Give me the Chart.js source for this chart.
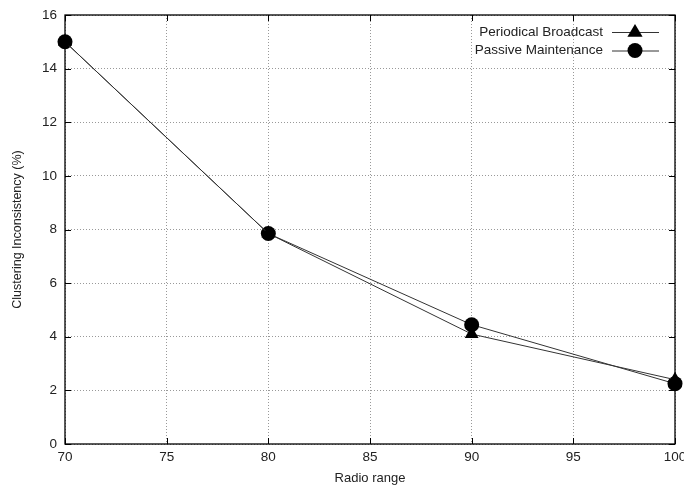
<!DOCTYPE html>
<html>
<head>
<meta charset="utf-8">
<script src="https://cdn.jsdelivr.net/npm/chart.js@4"></script>
<style>
  html, body { margin: 0; padding: 0; background: #fff; }
  #wrap { width: 684px; height: 486px; }
</style>
</head>
<body>
<div id="wrap"><canvas id="c" width="684" height="486"></canvas></div>
<script>
// Radio range (x) against clustering inconsistency in percent (y)
const radioRange = [70, 80, 90, 100];
const periodicalBroadcast = [15.0, 7.85, 4.1, 2.4];
const passiveMaintenance = [15.0, 7.85, 4.45, 2.25];
const xTicks = [70, 75, 80, 85, 90, 95, 100];
const yTicks = [0, 2, 4, 6, 8, 10, 12, 14, 16];

const FONT = '"Liberation Sans", Arial, Helvetica, sans-serif';
const TEXT = '#222';

function toPoints(ys) {
  return radioRange.map((x, i) => ({ x: x, y: ys[i] }));
}

// Frame, inward tick marks and the legend drawn on the canvas
const framePlugin = {
  id: 'frame',
  beforeDatasetsDraw(chart) {
    const { ctx, chartArea: a, scales } = chart;
    ctx.save();
    ctx.strokeStyle = '#000';
    ctx.lineWidth = 1.3;
    ctx.strokeRect(a.left, a.top, a.right - a.left, a.bottom - a.top);
    ctx.lineWidth = 1;
    const t = 6;
    xTicks.forEach(v => {
      const px = Math.round(scales.x.getPixelForValue(v)) + 0.5;
      ctx.beginPath();
      ctx.moveTo(px, a.bottom); ctx.lineTo(px, a.bottom - t);
      ctx.moveTo(px, a.top); ctx.lineTo(px, a.top + t);
      ctx.stroke();
    });
    yTicks.forEach(v => {
      const py = Math.round(scales.y.getPixelForValue(v)) + 0.5;
      ctx.beginPath();
      ctx.moveTo(a.left, py); ctx.lineTo(a.left + t, py);
      ctx.moveTo(a.right, py); ctx.lineTo(a.right - t, py);
      ctx.stroke();
    });
    ctx.restore();
  },
  afterDatasetsDraw(chart) {
    const { ctx } = chart;
    const entries = chart.data.datasets;
    ctx.save();
    ctx.font = '13.5px ' + FONT;
    ctx.textAlign = 'right';
    ctx.textBaseline = 'middle';
    const textRight = 603, lineL = 612, lineR = 659, mark = 635;
    entries.forEach((ds, i) => {
      const y = 32 + i * 18.5;
      ctx.fillStyle = TEXT;
      ctx.fillText(ds.label, textRight, y);
      ctx.strokeStyle = ds.borderColor;
      ctx.lineWidth = 1;
      ctx.beginPath();
      ctx.moveTo(lineL, y + 0.5); ctx.lineTo(lineR, y + 0.5);
      ctx.stroke();
      ctx.fillStyle = '#000';
      ctx.beginPath();
      if (ds.pointStyle === 'triangle') {
        const r = ds.pointRadius;
        ctx.moveTo(mark, y - r);
        ctx.lineTo(mark + r * 0.95, y + r * 0.6);
        ctx.lineTo(mark - r * 0.95, y + r * 0.6);
        ctx.closePath();
      } else {
        ctx.arc(mark, y, ds.pointRadius, 0, Math.PI * 2);
      }
      ctx.fill();
    });
    ctx.restore();
  }
};

new Chart(document.getElementById('c'), {
  type: 'line',
  data: {
    datasets: [
      {
        label: 'Periodical Broadcast',
        data: toPoints(periodicalBroadcast),
        borderColor: '#333',
        borderWidth: 1,
        pointStyle: 'triangle',
        pointRadius: 8,
        pointBackgroundColor: '#000',
        pointBorderColor: '#000',
        pointBorderWidth: 0,
        tension: 0,
        clip: false
      },
      {
        label: 'Passive Maintenance',
        data: toPoints(passiveMaintenance),
        borderColor: '#333',
        borderWidth: 1,
        pointStyle: 'circle',
        pointRadius: 7.5,
        pointBackgroundColor: '#000',
        pointBorderColor: '#000',
        pointBorderWidth: 0,
        tension: 0,
        clip: false
      }
    ]
  },
  options: {
    responsive: false,
    animation: false,
    devicePixelRatio: 1,
    layout: { padding: { left: 0, right: 9, top: 15, bottom: 0 } },
    plugins: {
      legend: { display: false },
      tooltip: { enabled: false }
    },
    scales: {
      x: {
        type: 'linear',
        min: 70, max: 100,
        afterBuildTicks(scale) { scale.ticks = xTicks.map(v => ({ value: v })); },
        afterFit(scale) { scale.height = 42; scale.paddingLeft = 0; scale.paddingRight = 0; },
        ticks: { color: TEXT, font: { family: FONT, size: 13.5 }, padding: 5, maxRotation: 0, autoSkip: false },
        grid: { color: '#999', lineWidth: 1, drawTicks: false },
        border: { display: false, dash: [1, 2] },
        title: { display: true, text: 'Radio range', color: TEXT, font: { family: FONT, size: 13 }, padding: { top: 0, bottom: 0 } }
      },
      y: {
        type: 'linear',
        min: 0, max: 16,
        afterBuildTicks(scale) { scale.ticks = yTicks.map(v => ({ value: v })); },
        afterFit(scale) { scale.width = 65; scale.paddingTop = 0; scale.paddingBottom = 0; },
        ticks: { color: TEXT, font: { family: FONT, size: 13.5 }, padding: 8 },
        grid: { color: '#999', lineWidth: 1, drawTicks: false },
        border: { display: false, dash: [1, 2] },
        title: { display: true, text: 'Clustering Inconsistency (%)', color: TEXT, font: { family: FONT, size: 12.5 }, padding: { top: 10, bottom: 0 } }
      }
    }
  },
  plugins: [framePlugin]
});
</script>
</body>
</html>
